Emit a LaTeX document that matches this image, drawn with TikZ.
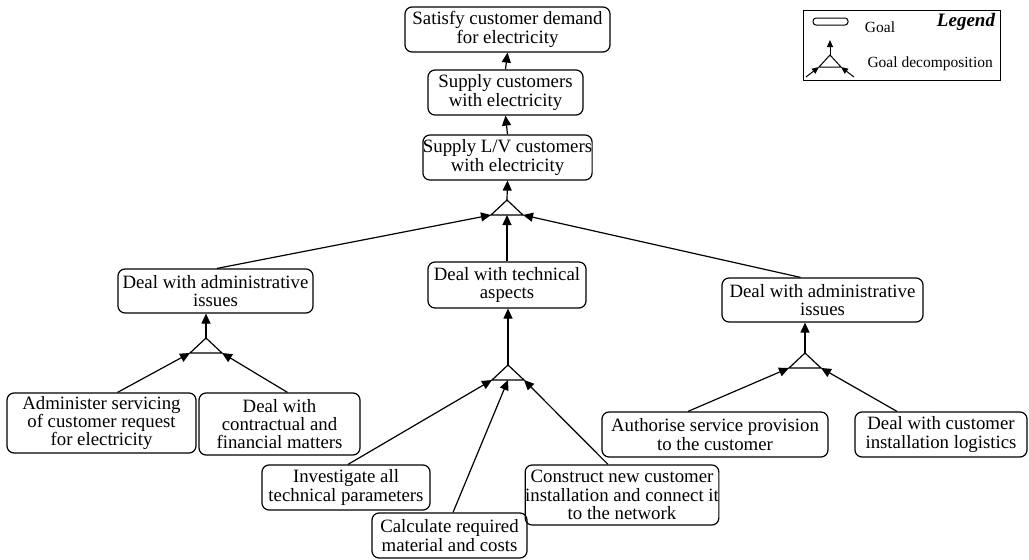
\documentclass[tikz,border=0pt]{standalone}
\usepackage{fontspec}
\setmainfont{Liberation Serif}
\usetikzlibrary{arrows.meta}
\begin{document}
\begin{tikzpicture}[x=1pt,y=-1pt,
  goal/.style={draw, rounded corners=7pt, align=center, inner sep=0pt,
    line width=1.2pt, font=\fontsize{18.8}{18.3}\selectfont},
  sz/.style 2 args={minimum width=#1pt, minimum height=#2pt},
  edge/.style={line width=1.2pt},
  link/.style={edge, -{Triangle[length=10pt,width=9pt]}},
  smalllink/.style={line width=1pt, -{Triangle[length=7pt,width=6pt]}},
  decomp/.pic={
    \coordinate (-a) at (0,0);
    \coordinate (-l) at (-16,15);
    \coordinate (-r) at (16,15);
    \coordinate (-m) at (0,15);
    \draw[edge, line join=miter] (-a) -- (-l) -- (-r) -- cycle;
  }]
\useasboundingbox (0,0) rectangle (1029,560);

% goals
\node[goal, sz={205}{45}] (b1) at (507.5,29.5) {Satisfy customer demand\\for electricity};
\node[goal, sz={155}{45}] (b2) at (505.5,92.5) {Supply customers\\with electricity};
\node[goal, sz={161}{45}] (b3) at (507.5,157.5) {Supply L/V customers\\with electricity};
\node[goal, sz={195}{44}] (b4) at (215.5,291) {Deal with administrative\\issues};
\node[goal, sz={158}{46}] (b5) at (507,285) {Deal with technical\\aspects};
\node[goal, sz={201}{44}] (b6) at (822.5,300) {Deal with administrative\\issues};
\node[goal, sz={189}{60}] (b7) at (101.5,423) {Administer servicing\\of customer request\\for electricity};
\node[goal, sz={161}{62}] (b8) at (279.5,424) {Deal with\\contractual and\\financial matters};
\node[goal, sz={168}{45}] (b9) at (346,487.5) {Investigate all\\technical parameters};
\node[goal, sz={155}{45}] (b10) at (449.5,535.5) {Calculate required\\material and costs};
\node[goal, sz={186}{60}] (b11) at (622,495) {Construct new customer\\installation and connect it\\to the network};
\node[goal, sz={226}{45}] (b12) at (715,434.5) {Authorise service provision\\to the customer};
\node[goal, sz={172}{45}] (b13) at (941,434.5) {Deal with customer\\installation logistics};

% decompositions
\pic (t1) at (507,200) {decomp};
\pic (t2) at (206,338) {decomp};
\pic (t3) at (508,365) {decomp};
\pic (t4) at (805,353) {decomp};

% upward chain
\draw[link] (b2.north) -- (b1.south);
\draw[link] (b3.north) -- (b2.south);
\draw[link] (t1-a) -- (b3.south);
\draw[link] ([xshift=1.5pt]b4.north) -- (t1-l);
\draw[link] (b5.north) -- (t1-m);
\draw[link] ([xshift=-22pt]b6.north) -- (t1-r);

\draw[link] (t2-a) -- (t2-a |- b4.south);
\draw[link] ([xshift=16pt]b7.north) -- (t2-l);
\draw[link] ([xshift=8pt]b8.north) -- (t2-r);

\draw[link] (t3-a) -- (t3-a |- b5.south);
\draw[link] ([xshift=2pt]b9.north) -- (t3-l);
\draw[link] ([xshift=3.5pt]b10.north) -- (t3-m);
\draw[link] ([xshift=-14pt]b11.north) -- (t3-r);

\draw[link] (t4-a) -- (t4-a |- b6.south);
\draw[link] ([xshift=-27pt]b12.north) -- (t4-l);
\draw[link] ([xshift=-44pt]b13.north) -- (t4-r);

% legend
\node[draw, line width=1pt, sz={197}{70}, anchor=north west] (legend) at (803,10) {};
\node[draw, rounded corners=3pt, sz={35}{7}, line width=1pt] (leggoal) at (830.5,21.5) {};
\node[font=\fontsize{15.5}{15.5}\selectfont] (leggoaltxt) at (880,27) {Goal};
\node[font=\fontsize{19}{19}\selectfont\bfseries\itshape] (legtitle) at (966,22) {Legend};
\coordinate (li-a) at (830,55);
\coordinate (li-l) at (819,67);
\coordinate (li-r) at (841,67);
\coordinate (li-up) at (830,40);
\coordinate (li-fl) at (806,77);
\coordinate (li-fr) at (854,77);
\draw[line width=1pt, line join=miter] (li-a) -- (li-l) -- (li-r) -- cycle;
\draw[smalllink] (li-a) -- (li-up);
\draw[smalllink] (li-fl) -- (li-l);
\draw[smalllink] (li-fr) -- (li-r);
\node[font=\fontsize{15.5}{15.5}\selectfont, anchor=west] (legdectxt) at (864,64) {Goal decomposition};
\end{tikzpicture}
\end{document}
